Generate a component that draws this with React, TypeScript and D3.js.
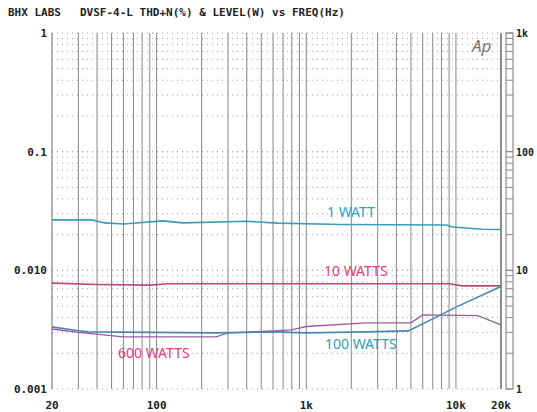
import React from 'react';
import * as d3 from 'd3';

// frequency sweep readings (Hz) and THD+N (%)
const oneWattFreq = [20, 37, 45, 60, 110, 150, 400, 650, 1700, 8600, 9500, 15000, 20000];
const oneWattThd = [0.0266, 0.0266, 0.0251, 0.0246, 0.0261, 0.0251, 0.0259, 0.025, 0.0243, 0.0241, 0.0232, 0.0222, 0.0221];

const tenWattFreq = [20, 40, 90, 120, 9000, 11000, 20000];
const tenWattThd = [0.0078, 0.0076, 0.0075, 0.0077, 0.0077, 0.0074, 0.0074];

const hundredWattFreq = [20, 30, 35, 250, 600, 1000, 2500, 4800, 7000, 10000, 20000];
const hundredWattThd = [0.00334, 0.0031, 0.00303, 0.00297, 0.00303, 0.00297, 0.00303, 0.00309, 0.0039, 0.0049, 0.0073];

const sixHundredFreq = [20, 30, 60, 250, 300, 600, 800, 1000, 2500, 5000, 6000, 14000, 20000];
const sixHundredThd = [0.0032, 0.0030, 0.00275, 0.00275, 0.00297, 0.00309, 0.00315, 0.00336, 0.00361, 0.00361, 0.00421, 0.00415, 0.00347];

const freqTicks = [20, 100, 1000, 10000, 20000];
const freqLabels = ['20', '100', '1k', '10k', '20k'];
const thdTicks = [1, 0.1, 0.01, 0.001];
const thdLabels = ['1', '0.1', '0.010', '0.001'];
const levelTicks = [1000, 100, 10, 1];
const levelLabels = ['1k', '100', '10', '1'];

const W = 537;
const H = 412;
const left = 52;
const right = 501;
const top = 33;
const bottom = 389;

const x = d3.scaleLog().domain([20, 20000]).range([left, right]);
const y = d3.scaleLog().domain([0.001, 1]).range([bottom, top]);
const yLevel = d3.scaleLog().domain([1, 1000]).range([bottom, top]);

const mono = '"DejaVu Sans Mono", monospace';
const sans = '"Noto Sans", "DejaVu Sans", sans-serif';

const line = d3.line<[number, number]>()
    .x(d => x(d[0]))
    .y(d => y(d[1]));

const pts = (f: number[], v: number[]) => f.map((d, i) => [d, v[i]] as [number, number]);

export default function App() {
    // log grid positions
    const vGrid: number[] = [];
    [10, 100, 1000, 10000].forEach(dec => {
        for (let m = 1; m <= 9; m++) {
            const f = dec * m;
            if (f >= 20 && f <= 20000) vGrid.push(f);
        }
    });
    vGrid.push(20000);

    const hGrid: number[] = [];
    [0.001, 0.01, 0.1].forEach(dec => {
        for (let m = 1; m <= 10; m++) hGrid.push(dec * m);
    });

    const rungs: number[] = [];
    [1, 10, 100].forEach(dec => {
        for (let m = 1; m <= 10; m++) rungs.push(dec * m);
    });

    return (
        <svg width={W} height={H} style={{ position: 'absolute', left: 0, top: 0, background: '#fff' }}>
            {/* title */}
            <text x={8} y={16} fontFamily={mono} fontWeight="bold" fontSize={11} fill="#222">BHX LABS</text>
            <text x={80} y={16} fontFamily={mono} fontWeight="bold" fontSize={11} fill="#222">
                DVSF-4-L THD+N(%) &amp; LEVEL(W) vs FREQ(Hz)
            </text>

            {/* horizontal dotted grid */}
            {hGrid.map((v, i) => (
                <line key={'h' + i} x1={left} x2={right} y1={y(v)} y2={y(v)}
                    stroke="#a0a0a0" strokeWidth={1} strokeDasharray="1,4" />
            ))}

            {/* vertical grid */}
            {vGrid.map((f, i) => (
                <line key={'v' + i} x1={x(f)} x2={x(f)} y1={top} y2={bottom}
                    stroke={f === 20 || f === 20000 ? '#666' : '#888'} strokeWidth={1} />
            ))}

            {/* level ladder on right */}
            <rect x={506} y={top} width={7} height={bottom - top} fill="none" stroke="#777" strokeWidth={1} />
            {rungs.map((v, i) => (
                <line key={'r' + i} x1={506} x2={513} y1={yLevel(v)} y2={yLevel(v)} stroke="#888" strokeWidth={1} />
            ))}

            {/* curves */}
            <path d={line(pts(oneWattFreq, oneWattThd)) || ''} fill="none" stroke="#3a9cb8" strokeWidth={1.6} />
            <path d={line(pts(tenWattFreq, tenWattThd)) || ''} fill="none" stroke="#b84a7a" strokeWidth={1.6} />
            <path d={line(pts(sixHundredFreq, sixHundredThd)) || ''} fill="none" stroke="#9a5ca0" strokeWidth={1.4} />
            <path d={line(pts(hundredWattFreq, hundredWattThd)) || ''} fill="none" stroke="#4a86b0" strokeWidth={1.6} />

            {/* curve labels */}
            <text x={327} y={217} fontFamily={sans} fontSize={14} fill="#2a9fd0">1 WATT</text>
            <text x={324} y={276} fontFamily={sans} fontSize={14} fill="#e0407a">10 WATTS</text>
            <text x={325} y={349} fontFamily={sans} fontSize={14} fill="#2a9fb8">100 WATTS</text>
            <text x={118} y={358} fontFamily={sans} fontSize={14} fill="#e0407a">600 WATTS</text>

            {/* Ap logo */}
            <text x={472} y={52} fontFamily={sans} fontStyle="italic" fontSize={17} fill="#777">Ap</text>

            {/* left axis labels */}
            {thdTicks.map((v, i) => (
                <text key={'yl' + i} x={47} y={y(v) + 4} textAnchor="end" fontFamily={mono}
                    fontWeight="bold" fontSize={11} fill="#222">{thdLabels[i]}</text>
            ))}

            {/* right axis labels */}
            {levelTicks.map((v, i) => (
                <text key={'yr' + i} x={516} y={yLevel(v) + 4} fontFamily={mono}
                    fontWeight="bold" fontSize={10} fill="#222">{levelLabels[i]}</text>
            ))}

            {/* bottom axis labels */}
            {freqTicks.map((f, i) => (
                <text key={'xl' + i} x={x(f)} y={409} textAnchor="middle" fontFamily={mono}
                    fontWeight="bold" fontSize={11} fill="#222">{freqLabels[i]}</text>
            ))}
        </svg>
    );
}
